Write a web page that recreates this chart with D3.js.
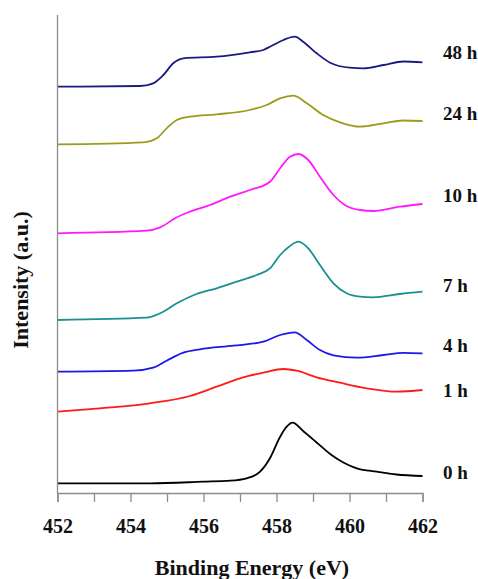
<!DOCTYPE html>
<html>
<head>
<meta charset="utf-8">
<script src="https://cdn.jsdelivr.net/npm/d3@7"></script>
<style>
  html, body { margin: 0; padding: 0; background: #fff; }
  svg { display: block; }
  text { font-family: "Liberation Serif", "Times New Roman", serif; font-weight: bold; fill: #111; }
</style>
</head>
<body>
<svg id="chart"></svg>
<script>
// Data: [binding energy (eV), intensity (a.u.)]
const s0h = [[452, 9.7], [454.53, 9.7], [455.99, 11.3], [456.73, 12.3], [457.18, 14.7], [457.55, 21.3],
  [457.82, 34.7], [458.1, 56.3], [458.28, 66.3], [458.44, 70.3], [458.73, 62], [459.1, 50.5],
  [459.47, 39], [459.83, 30.5], [460.2, 24.7], [460.75, 21.3], [461.29, 18.5], [462, 17]];
const s1h = [[452, 81.3], [453.16, 84.7], [454.53, 89.7], [455.63, 97], [456.36, 106.3], [457.09, 115.7],
  [457.64, 120.3], [458.19, 124], [458.55, 122.3], [459.1, 115.7], [459.74, 110.3], [460.47, 104.7],
  [461.29, 101.3], [462, 103]];
const s4h = [[452, 121.3], [454.08, 122.3], [454.62, 125.3], [454.99, 132.3], [455.45, 140.3], [455.9, 143.7],
  [456.82, 147.3], [457.64, 151.3], [458.1, 158], [458.5, 160.7], [458.83, 153], [459.19, 143],
  [459.56, 137.7], [460.2, 135.3], [460.93, 138], [461.47, 140.2], [462, 139.7]];
const s7h = [[452, 173], [454.44, 175.3], [454.81, 179.7], [455.27, 189.7], [455.81, 199], [456.36, 204.7],
  [456.91, 211.3], [457.46, 218], [457.82, 224.7], [458.1, 238], [458.37, 247], [458.6, 251.3],
  [458.87, 244.7], [459.19, 228], [459.56, 209.7], [459.92, 199.7], [460.29, 196.3], [460.65, 195.7],
  [461.38, 199], [462, 201.3]];
const s10h = [[452, 259.7], [454.44, 262.3], [454.81, 265.7], [455.27, 275.7], [455.63, 281.3], [456.18, 288],
  [456.73, 296.3], [457.27, 303], [457.82, 311.3], [458.1, 324.7], [458.37, 336.3], [458.6, 339],
  [458.87, 333], [459.19, 316.3], [459.56, 298], [459.92, 287], [460.29, 283], [460.65, 282],
  [461.38, 286.3], [462, 289]];
const s24h = [[452, 348.7], [454.35, 350.7], [454.72, 354.7], [454.99, 364.7], [455.27, 373], [455.63, 376.3],
  [456.36, 378.7], [457.27, 383], [457.73, 388], [458.1, 394.7], [458.46, 397.3], [458.83, 389.7],
  [459.28, 378], [459.74, 370.7], [460.29, 366.3], [460.93, 369.7], [461.47, 372.5], [462, 372]];
const s48h = [[452, 406.3], [454.26, 407], [454.62, 409.7], [454.9, 418], [455.17, 429.7], [455.45, 434.7],
  [456.36, 436.3], [457.27, 440.7], [457.64, 443], [457.82, 446.3], [458.19, 453], [458.5, 456.3],
  [458.73, 451.3], [459.1, 439.7], [459.47, 430.3], [460.01, 425.3], [460.38, 424.7], [460.93, 428],
  [461.47, 431.5], [462, 430.7]];

const seriesNames = ["0 h", "1 h", "4 h", "7 h", "10 h", "24 h", "48 h"];
const seriesData = [s0h, s1h, s4h, s7h, s10h, s24h, s48h];
// intensity where each label sits, next to the right end of its curve
const labelLevels = [21, 103, 148, 208, 298, 380, 441];
const xTicks = [452, 453, 454, 455, 456, 457, 458, 459, 460, 461, 462];
const xLabels = [452, 454, 456, 458, 460, 462];

// Configuration
const CONFIG = {
  WIDTH: 478,
  HEIGHT: 579,
  MARGIN: { top: 15, right: 55.5, bottom: 86, left: 57.5 },
  COLORS: ["#000000", "#ff1a1a", "#1a1ae6", "#1a9090", "#ff19ff", "#9c9c1c", "#1a1a80"],
  AXIS_COLOR: "#8c8c8c"
};

function draw() {
  const { WIDTH: width, HEIGHT: height, MARGIN: margin } = CONFIG;

  const svg = d3.select("#chart")
    .attr("width", width)
    .attr("height", height)
    .attr("viewBox", `0 0 ${width} ${height}`);

  const x = d3.scaleLinear().domain([452, 462]).range([margin.left, width - margin.right]);
  const y = d3.scaleLinear().domain([0, 478]).range([height - margin.bottom, margin.top]);

  // Curves
  const line = d3.line()
    .x(d => x(d[0]))
    .y(d => y(d[1]))
    .curve(d3.curveMonotoneX);

  svg.append("g")
    .selectAll("path")
    .data(seriesData)
    .join("path")
    .attr("d", line)
    .attr("fill", "none")
    .attr("stroke", (d, i) => CONFIG.COLORS[i])
    .attr("stroke-width", 1.8)
    .attr("stroke-linejoin", "round");

  // Series labels
  svg.append("g")
    .selectAll("text")
    .data(seriesNames)
    .join("text")
    .attr("x", 443)
    .attr("y", (d, i) => y(labelLevels[i]))
    .attr("dy", "0.35em")
    .attr("font-size", 19)
    .text(d => d);

  // X axis
  const xAxis = svg.append("g")
    .attr("transform", `translate(0,${y(0)})`)
    .call(d3.axisBottom(x).tickValues(xTicks).tickSize(9).tickFormat(d => xLabels.includes(d) ? d : ""));

  xAxis.attr("font-family", null);
  xAxis.select(".domain").attr("stroke", CONFIG.AXIS_COLOR).attr("stroke-width", 1.3);
  xAxis.selectAll(".tick line").attr("stroke", CONFIG.AXIS_COLOR).attr("stroke-width", 1.3);
  xAxis.selectAll(".tick text")
    .attr("fill", null)
    .attr("font-size", 20)
    .attr("y", 0)
    .attr("dy", null)
    .attr("transform", "translate(0,40)");

  // Y axis line only
  svg.append("line")
    .attr("x1", margin.left).attr("x2", margin.left)
    .attr("y1", y(478)).attr("y2", y(0))
    .attr("stroke", CONFIG.AXIS_COLOR)
    .attr("stroke-width", 1.3);

  // Axis titles
  svg.append("text")
    .attr("x", 252)
    .attr("y", 575)
    .attr("text-anchor", "middle")
    .attr("font-size", 22)
    .text("Binding Energy (eV)");

  svg.append("text")
    .attr("transform", "translate(28,280) rotate(-90)")
    .attr("text-anchor", "middle")
    .attr("font-size", 22)
    .text("Intensity (a.u.)");
}

draw();
</script>
</body>
</html>
